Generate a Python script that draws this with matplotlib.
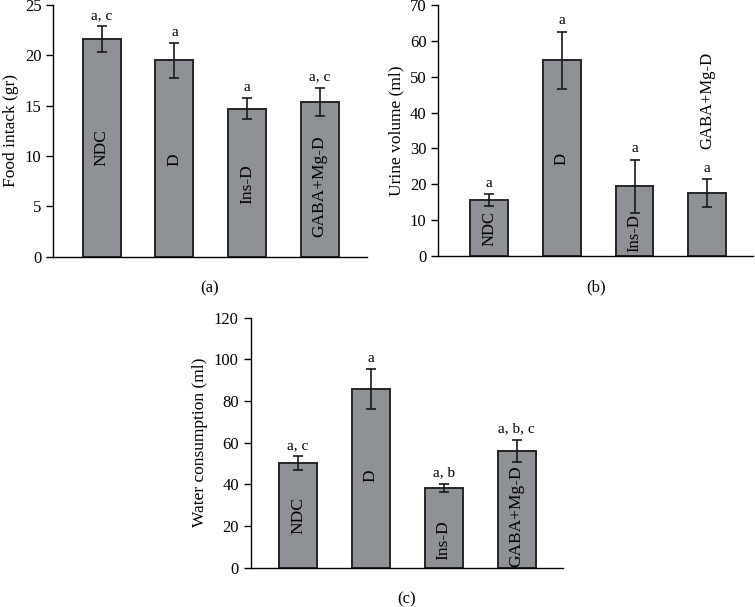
import numpy as np
import matplotlib
matplotlib.use('Agg')
from matplotlib import pyplot as plt

plt.rcParams['font.family'] = ['Liberation Serif', 'DejaVu Serif']

groups = ['NDC', 'D', 'Ins-D', 'GABA+Mg-D']

# (a) food intake
food_mean = [21.6, 19.5, 14.7, 15.4]
food_err = [1.3, 1.7, 1.05, 1.4]
food_sig = ['a, c', 'a', 'a', 'a, c']

# (b) urine volume
urine_mean = [15.6, 54.6, 19.5, 17.5]
urine_err = [1.6, 8.0, 7.4, 3.9]
urine_sig = ['a', 'a', 'a', 'a']

# (c) water consumption
water_mean = [50.1, 85.8, 38.3, 56.2]
water_err = [3.3, 9.7, 2.0, 5.3]
water_sig = ['a, c', 'a', 'a, b', 'a, b, c']

bar_color = '#8e9196'
edge_color = '#262626'

fig = plt.figure(figsize=(7.55, 6.07), dpi=100)


def draw_panel(rect, means, errs, sigs, ymax, step, ylabel, tag, label_y, xlim, label_size=12.5):
    ax = fig.add_axes(rect)
    x = np.arange(len(means))
    ax.bar(x, means, width=0.52, color=bar_color, edgecolor=edge_color, linewidth=1.4, zorder=2)
    ax.errorbar(x, means, yerr=errs, fmt='none', ecolor='#1a1a1a', elinewidth=1.2,
                capsize=3.3, capthick=1.2, zorder=3)
    for xi, m, e, s in zip(x, means, errs, sigs):
        ax.annotate(s, (xi, m + e), xytext=(0, 3), textcoords='offset points',
                    ha='center', va='bottom', fontsize=11)
    for xi, name, ly in zip(x, groups, label_y):
        ax.text(xi, ly, name, rotation=90, ha='center', va='center', fontsize=label_size, zorder=4)
    ax.set_xlim(*xlim)
    ax.set_ylim(0, ymax)
    ax.set_yticks(np.arange(0, ymax + step / 2, step))
    ax.set_xticks([])
    ax.spines['top'].set_visible(False)
    ax.spines['right'].set_visible(False)
    ax.spines['left'].set_linewidth(1.0)
    ax.spines['bottom'].set_linewidth(1.0)
    ax.tick_params(axis='y', labelsize=12, length=5, direction='out', width=1.0)
    ax.set_ylabel(ylabel, fontsize=12.5)
    ax.text(0.5, -0.125, tag, transform=ax.transAxes, ha='center', va='center', fontsize=12)
    return ax


draw_panel([0.0706, 0.577, 0.415, 0.4146], food_mean, food_err, food_sig, 25, 5,
           'Food intack (gr)', '(a)', [10.8, 9.6, 7.2, 7.0], (-0.666, 3.645))
draw_panel([0.5805, 0.5783, 0.4168, 0.4135], urine_mean, urine_err, urine_sig, 70, 10,
           'Urine volume (ml)', '(b)', [7.6, 27.0, 6.5, 43.5], (-0.70, 3.63), label_size=12)
draw_panel([0.332, 0.0647, 0.414, 0.4119], water_mean, water_err, water_sig, 120, 20,
           'Water consumption (ml)', '(c)', [24.8, 44.0, 13.3, 24.6], (-0.65, 3.64))

fig.savefig('out.png', dpi=100)
